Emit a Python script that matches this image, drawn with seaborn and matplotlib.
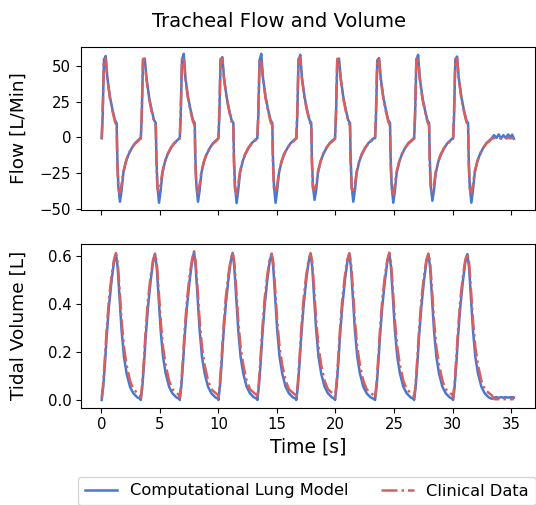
import pandas as pd
import matplotlib
matplotlib.use("Agg")
import matplotlib.pyplot as plt
import seaborn as sns

BLUE = "#4878d0"
RED = "#d65f5f"
MODEL = "Computational Lung Model"
CLINICAL = "Clinical Data"

# breath onsets [s]
breath_onsets = [0.02, 3.36, 6.69, 9.99, 13.32, 16.65, 19.96, 23.38, 26.72, 30.05]

# one breath of tracheal flow [L/Min], time since onset [s]
flow_offsets = [0.00, 0.08, 0.19, 0.34, 0.48, 0.71, 0.93, 1.13, 1.28, 1.33,
                1.42, 1.56, 1.70, 1.85, 2.07, 2.27, 2.56, 2.84, 3.13, 3.30]
flow_model_breath = [-0.7, 14, 54, 57, 42, 28, 19, 12, 10, -13,
                     -34, -45, -37, -25, -17, -12.5, -7.7, -4.2, -2, -0.7]
flow_clinical_breath = [-1, 18, 55, 54, 41, 27, 18, 11, 8, -18,
                        -36, -39, -33, -24, -17, -12, -7.5, -4.5, -2.5, -1]
# per-breath peak (index 3) and trough (index 11)
flow_model_peaks = [57.0, 55.2, 58.5, 56.2, 58.5, 57.8, 55.2, 55.5, 57.8, 56.6]
flow_model_troughs = [-45.2, -45.9, -45.2, -46.2, -46.0, -43.9, -45.2, -45.9, -44.5, -45.9]
flow_clinical_peaks = [55.0, 54.5, 56.6, 54.5, 52.5, 56.0, 54.0, 55.0, 56.5, 55.5]
flow_clinical_troughs = [-39, -38, -39, -40, -38, -37, -39, -40, -38, -39]

# end of recording, flow back to baseline
tail_times = [33.55, 33.75, 33.95, 34.15, 34.35, 34.55, 34.75, 34.95, 35.10, 35.25]
flow_model_tail = [1.5, -0.5, 2.0, -1.0, 1.5, -0.5, 2.0, 0.0, 1.8, -1.0]
flow_clinical_tail = [-0.5, -0.8, -0.5, -0.7, -0.6, -0.8, -0.5, -0.7, -0.6, -0.7]

# one breath of tidal volume [L]
vol_offsets = [0.00, 0.13, 0.28, 0.42, 0.62, 0.85, 1.05, 1.22, 1.36, 1.50,
               1.70, 1.90, 2.13, 2.42, 2.70, 3.04, 3.30]
vol_model_breath = [0.0, 0.055, 0.153, 0.264, 0.39, 0.50, 0.576, 0.608, 0.555, 0.445,
                    0.29, 0.18, 0.11, 0.055, 0.028, 0.011, 0.005]
vol_clinical_breath = [0.01, 0.07, 0.18, 0.29, 0.42, 0.52, 0.585, 0.61, 0.575, 0.48,
                       0.33, 0.22, 0.145, 0.08, 0.045, 0.03, 0.02]
# per-breath peak volume (index 7)
vol_model_peaks = [0.608, 0.608, 0.618, 0.613, 0.608, 0.608, 0.608, 0.610, 0.608, 0.608]
vol_clinical_peaks = [0.612, 0.610, 0.619, 0.615, 0.610, 0.612, 0.612, 0.614, 0.610, 0.611]
vol_model_tail = [0.010, 0.012, 0.009, 0.012, 0.010, 0.012, 0.010, 0.011, 0.012, 0.010]
vol_clinical_tail = [0.004, 0.003, 0.004, 0.003, 0.003, 0.004, 0.003, 0.003, 0.004, 0.003]


def build(offsets, shape, fixed, tail):
    t, v = [], []
    for i, t0 in enumerate(breath_onsets):
        vals = list(shape)
        for idx, arr in fixed:
            vals[idx] = arr[i]
        t += [t0 + o for o in offsets]
        v += vals
    return t + tail_times, v + tail


frames = []
for name, shape, peaks, troughs, tail in [
        (MODEL, flow_model_breath, flow_model_peaks, flow_model_troughs, flow_model_tail),
        (CLINICAL, flow_clinical_breath, flow_clinical_peaks, flow_clinical_troughs, flow_clinical_tail)]:
    t, v = build(flow_offsets, shape, [(3, peaks), (11, troughs)], tail)
    frames.append(pd.DataFrame({"time": t, "value": v, "source": name, "kind": "flow"}))
for name, shape, peaks, tail in [
        (MODEL, vol_model_breath, vol_model_peaks, vol_model_tail),
        (CLINICAL, vol_clinical_breath, vol_clinical_peaks, vol_clinical_tail)]:
    t, v = build(vol_offsets, shape, [(7, peaks)], tail)
    frames.append(pd.DataFrame({"time": t, "value": v, "source": name, "kind": "volume"}))
df = pd.concat(frames, ignore_index=True)

fig, (ax1, ax2) = plt.subplots(2, 1, sharex=True, figsize=(5.36, 5.05), dpi=100)
ax1.set_position([81 / 536, 1 - 210 / 505, 454 / 536, 163.3 / 505])
ax2.set_position([81 / 536, 1 - 407.7 / 505, 454 / 536, 163.7 / 505])

for ax, kind in [(ax1, "flow"), (ax2, "volume")]:
    sub = df[df["kind"] == kind]
    sns.lineplot(data=sub[sub["source"] == MODEL], x="time", y="value", color=BLUE,
                 linewidth=1.8, estimator=None, sort=False, label=MODEL, ax=ax)
    sns.lineplot(data=sub[sub["source"] == CLINICAL], x="time", y="value", color=RED,
                 linewidth=1.8, linestyle="-.", estimator=None, sort=False,
                 label=CLINICAL, ax=ax)
    ax.tick_params(labelsize=10.7)
    ax.get_legend().remove()

ax1.set_xlim(-1.75, 37.05)
ax1.set_ylim(-51, 63.5)
ax1.set_yticks([-50, -25, 0, 25, 50])
ax2.set_ylim(-0.032, 0.65)
ax2.set_yticks([0.0, 0.2, 0.4, 0.6])
ax2.set_xticks([0, 5, 10, 15, 20, 25, 30, 35])

ax1.set_xlabel("")
ax1.set_ylabel("Flow [L/Min]", fontsize=13.3)
ax2.set_ylabel("Tidal Volume [L]", fontsize=13.3)
ax2.set_xlabel("Time [s]", fontsize=13.5)
ax1.yaxis.set_label_coords(-0.117, 0.5)
ax2.yaxis.set_label_coords(-0.117, 0.5)

fig.text(0.5205, 1 - 26.7 / 505, "Tracheal Flow and Volume", ha="center",
         va="baseline", fontsize=14)

handles, labels = ax2.get_legend_handles_labels()
fig.legend(handles, labels, loc="upper left", bbox_to_anchor=(78 / 536, 1 - 477 / 505),
           ncol=2, fontsize=11.7, borderaxespad=0)

fig.savefig("out.png", dpi=100)
